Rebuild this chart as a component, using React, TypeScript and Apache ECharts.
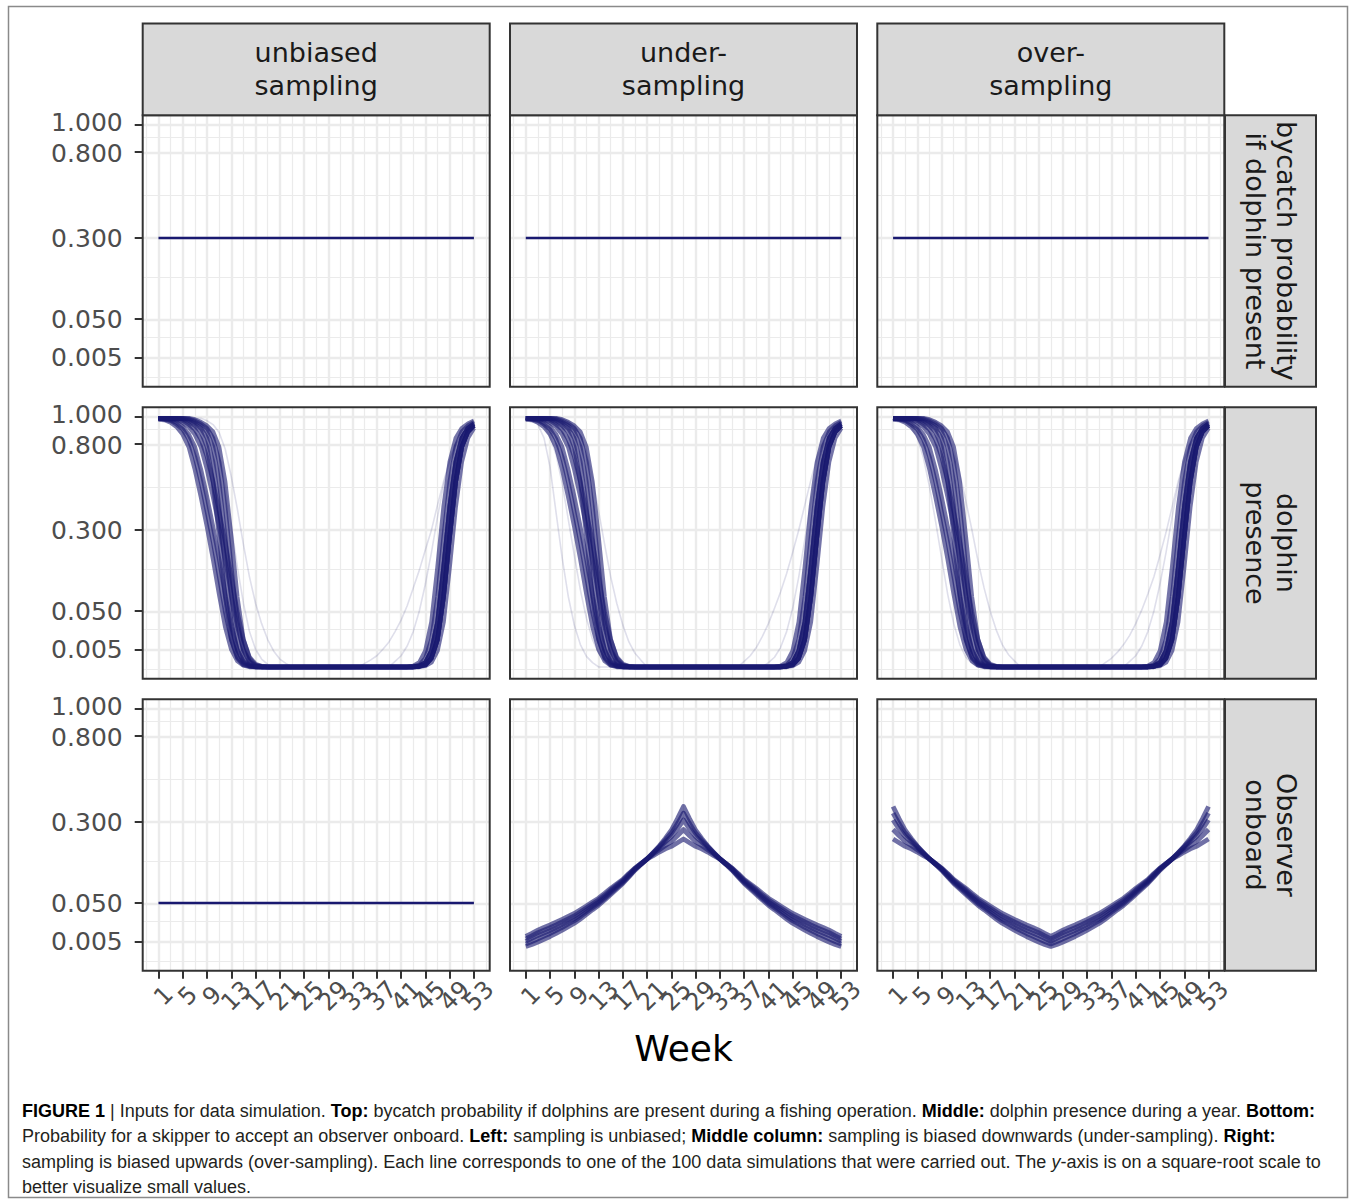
import React, { useEffect, useRef } from "react";
import * as echarts from "echarts";

// ---------------- DATA ----------------
const WEEKS = [1, 2, 3, 4, 5, 6, 7, 8, 9, 10, 11, 12, 13, 14, 15, 16, 17, 18, 19, 20, 21, 22, 23, 24, 25, 26, 27, 28, 29, 30, 31, 32, 33, 34, 35, 36, 37, 38, 39, 40, 41, 42, 43, 44, 45, 46, 47, 48, 49, 50, 51, 52, 53];
const X_TICKS = [1, 5, 9, 13, 17, 21, 25, 29, 33, 37, 41, 45, 49, 53];
const X_MINOR = [-1, 3, 7, 11, 15, 19, 23, 27, 31, 35, 39, 43, 47, 51, 55];
const Y_TICKS = [0.005, 0.05, 0.3, 0.8, 1.0];
const COLUMN_LABELS = ["unbiased\nsampling", "under-\nsampling", "over-\nsampling"];
const ROW_LABELS = ["bycatch probability\nif dolphin present", "dolphin\npresence", "Observer\nonboard"];
const X_TITLE = "Week";

// top row: bycatch probability if dolphin present (all simulations identical)
const BYCATCH_PROB = 0.3;
// bottom-left: observer onboard, unbiased sampling
const OBSERVER_UNBIASED = 0.05;

// middle row: dolphin presence, densely overlapping simulations (shared core)
const DOLPHIN_CORE = [
  [0.98, 0.976, 0.956, 0.922, 0.865, 0.774, 0.624, 0.462, 0.314, 0.185, 0.0841, 0.0256, 0.0049, 0.00058, 0.00004,
    0, 0, 0, 0, 0, 0, 0, 0, 0, 0, 0, 0, 0, 0, 0, 0, 0, 0, 0, 0, 0, 0, 0, 0, 0, 0, 0, 0,
    0.000016, 0.000324, 0.00423, 0.0324, 0.16, 0.41, 0.672, 0.837, 0.912, 0.947],
  [0.99, 0.98, 0.97, 0.941, 0.903, 0.828, 0.706, 0.548, 0.384, 0.25, 0.13, 0.0484, 0.0121, 0.0016, 0.000144, 0.00001,
    0, 0, 0, 0, 0, 0, 0, 0, 0, 0, 0, 0, 0, 0, 0, 0, 0, 0, 0, 0, 0, 0, 0, 0, 0, 0, 0,
    0.000004, 0.000064, 0.00123, 0.0121, 0.0784, 0.27, 0.548, 0.774, 0.884, 0.931],
  [0.99, 0.98, 0.976, 0.956, 0.922, 0.865, 0.774, 0.624, 0.462, 0.314, 0.185, 0.0841, 0.0256, 0.0049, 0.00058, 0.00004,
    0, 0, 0, 0, 0, 0, 0, 0, 0, 0, 0, 0, 0, 0, 0, 0, 0, 0, 0, 0, 0, 0, 0, 0, 0, 0,
    0.000004, 0.000064, 0.00123, 0.0121, 0.0784, 0.27, 0.548, 0.774, 0.884, 0.931, 0.96],
  [0.99, 0.99, 0.98, 0.976, 0.956, 0.922, 0.865, 0.774, 0.624, 0.462, 0.314, 0.185, 0.0841, 0.0256, 0.0049, 0.00058, 0.00004,
    0, 0, 0, 0, 0, 0, 0, 0, 0, 0, 0, 0, 0, 0, 0, 0, 0, 0, 0, 0, 0, 0, 0, 0, 0, 0,
    0.000004, 0.000064, 0.00123, 0.0121, 0.0784, 0.27, 0.548, 0.774, 0.884, 0.931],
  [0.99, 0.99, 0.99, 0.98, 0.97, 0.941, 0.903, 0.828, 0.706, 0.548, 0.384, 0.25, 0.13, 0.0484, 0.0121, 0.0016, 0.000144, 0.00001,
    0, 0, 0, 0, 0, 0, 0, 0, 0, 0, 0, 0, 0, 0, 0, 0, 0, 0, 0, 0, 0, 0, 0, 0, 0,
    0.000016, 0.000324, 0.00423, 0.0324, 0.16, 0.41, 0.672, 0.837, 0.912, 0.947],
  [0.99, 0.99, 0.99, 0.99, 0.98, 0.96, 0.931, 0.884, 0.774, 0.548, 0.27, 0.0784, 0.0121, 0.00123, 0.000064, 0.000004,
    0, 0, 0, 0, 0, 0, 0, 0, 0, 0, 0, 0, 0, 0, 0, 0, 0, 0, 0, 0, 0, 0, 0, 0, 0, 0, 0, 0,
    0.000016, 0.000324, 0.00423, 0.0324, 0.16, 0.41, 0.672, 0.837, 0.912],
  [0.99, 0.99, 0.99, 0.99, 0.986, 0.97, 0.947, 0.912, 0.837, 0.672, 0.41, 0.16, 0.0324, 0.00423, 0.000324, 0.000016,
    0, 0, 0, 0, 0, 0, 0, 0, 0, 0, 0, 0, 0, 0, 0, 0, 0, 0, 0, 0, 0, 0, 0, 0, 0, 0, 0,
    0.000016, 0.000324, 0.00423, 0.0324, 0.16, 0.41, 0.672, 0.837, 0.912, 0.947],
  [0.99, 0.99, 0.99, 0.99, 0.99, 0.98, 0.96, 0.931, 0.884, 0.774, 0.548, 0.27, 0.0784, 0.0121, 0.00123, 0.000064, 0.000004,
    0, 0, 0, 0, 0, 0, 0, 0, 0, 0, 0, 0, 0, 0, 0, 0, 0, 0, 0, 0, 0, 0, 0, 0, 0, 0,
    0.000004, 0.000064, 0.00123, 0.0121, 0.0784, 0.27, 0.548, 0.774, 0.884, 0.931],
  [0.99, 0.99, 0.99, 0.99, 0.99, 0.986, 0.97, 0.947, 0.912, 0.837, 0.672, 0.41, 0.16, 0.0324, 0.00423, 0.000324, 0.000016,
    0, 0, 0, 0, 0, 0, 0, 0, 0, 0, 0, 0, 0, 0, 0, 0, 0, 0, 0, 0, 0, 0, 0, 0, 0,
    0.000016, 0.000324, 0.00423, 0.0324, 0.16, 0.41, 0.672, 0.837, 0.912, 0.947, 0.97],
  [0.99, 0.99, 0.99, 0.99, 0.99, 0.99, 0.98, 0.96, 0.931, 0.884, 0.774, 0.548, 0.27, 0.0784, 0.0121, 0.00123, 0.000064, 0.000004,
    0, 0, 0, 0, 0, 0, 0, 0, 0, 0, 0, 0, 0, 0, 0, 0, 0, 0, 0, 0, 0, 0, 0, 0, 0,
    0.000004, 0.000064, 0.00123, 0.0121, 0.0784, 0.27, 0.548, 0.774, 0.884, 0.931],
];

// middle row: isolated (faint) simulations, per column
const DOLPHIN_FAINT_UNBIASED = [
  [0.99, 0.99, 0.99, 0.99, 0.99, 0.99, 0.99, 0.99, 0.97, 0.94, 0.88, 0.76, 0.58, 0.4, 0.24, 0.13, 0.065, 0.03, 0.012, 0.004, 0.001, 0.0002,
    0, 0, 0, 0, 0, 0, 0, 0, 0, 0, 0, 0, 0, 0, 0, 0, 0, 0, 0, 0, 0,
    0.000004, 0.000064, 0.00123, 0.0121, 0.0784, 0.27, 0.548, 0.774, 0.884, 0.931],
  [0.99, 0.98, 0.976, 0.956, 0.922, 0.865, 0.774, 0.624, 0.462, 0.314, 0.185, 0.0841, 0.0256, 0.0049, 0.00058, 0.00004,
    0, 0, 0, 0, 0, 0, 0, 0, 0, 0, 0, 0, 0, 0, 0, 0, 0, 0,
    0.0002, 0.0008, 0.002, 0.005, 0.01, 0.02, 0.035, 0.06, 0.1, 0.15, 0.22, 0.3, 0.42, 0.55, 0.68, 0.79, 0.86, 0.9, 0.92],
  [0.99, 0.99, 0.99, 0.99, 0.99, 0.99, 0.98, 0.96, 0.92, 0.85, 0.72, 0.52, 0.32, 0.16, 0.065, 0.02, 0.005, 0.001, 0.0001,
    0, 0, 0, 0, 0, 0, 0, 0, 0, 0, 0, 0, 0, 0, 0, 0, 0, 0, 0, 0,
    0.0005, 0.002, 0.007, 0.02, 0.05, 0.11, 0.21, 0.36, 0.53, 0.69, 0.8, 0.87, 0.91, 0.93],
];
const DOLPHIN_FAINT_UNDER = [
  [0.99, 0.98, 0.94, 0.84, 0.64, 0.38, 0.19, 0.08, 0.028, 0.008, 0.0018, 0.0003,
    0, 0, 0, 0, 0, 0, 0, 0, 0, 0, 0, 0, 0, 0, 0, 0, 0, 0, 0, 0, 0, 0, 0, 0,
    0.0005, 0.002, 0.006, 0.015, 0.03, 0.055, 0.09, 0.14, 0.21, 0.3, 0.42, 0.56, 0.7, 0.81, 0.88, 0.92, 0.94],
  [0.99, 0.985, 0.97, 0.93, 0.85, 0.72, 0.54, 0.35, 0.2, 0.095, 0.038, 0.012, 0.003, 0.0005,
    0, 0, 0, 0, 0, 0, 0, 0, 0, 0, 0, 0, 0, 0, 0, 0, 0, 0, 0, 0, 0, 0, 0, 0, 0, 0,
    0.0003, 0.0015, 0.006, 0.02, 0.055, 0.13, 0.26, 0.44, 0.62, 0.77, 0.87, 0.92, 0.95],
  [0.99, 0.99, 0.99, 0.99, 0.99, 0.99, 0.99, 0.97, 0.93, 0.86, 0.74, 0.57, 0.39, 0.24, 0.13, 0.065, 0.028, 0.01, 0.003, 0.0007,
    0, 0, 0, 0, 0, 0, 0, 0, 0, 0, 0, 0, 0, 0, 0, 0, 0, 0, 0, 0, 0, 0, 0, 0,
    0.00005, 0.0015, 0.018, 0.1, 0.3, 0.58, 0.8, 0.9, 0.94],
];
const DOLPHIN_FAINT_OVER = [
  [0.99, 0.98, 0.96, 0.92, 0.84, 0.7, 0.52, 0.34, 0.19, 0.085, 0.03, 0.008, 0.0015, 0.0002,
    0, 0, 0, 0, 0, 0, 0, 0, 0, 0, 0, 0, 0, 0, 0, 0, 0, 0, 0, 0, 0, 0, 0, 0, 0, 0, 0, 0, 0,
    0.000004, 0.000064, 0.00123, 0.0121, 0.0784, 0.27, 0.548, 0.774, 0.884, 0.931],
  [0.99, 0.99, 0.99, 0.99, 0.99, 0.99, 0.99, 0.97, 0.93, 0.86, 0.75, 0.6, 0.44, 0.3, 0.18, 0.1, 0.05, 0.022, 0.008, 0.0025, 0.0006,
    0, 0, 0, 0, 0, 0, 0, 0, 0, 0, 0, 0, 0, 0,
    0.0003, 0.0012, 0.0035, 0.008, 0.016, 0.03, 0.052, 0.085, 0.13, 0.2, 0.29, 0.41, 0.55, 0.68, 0.79, 0.86, 0.9, 0.92],
  [0.99, 0.99, 0.99, 0.99, 0.98, 0.96, 0.931, 0.884, 0.774, 0.548, 0.27, 0.0784, 0.0121, 0.00123, 0.000064,
    0, 0, 0, 0, 0, 0, 0, 0, 0, 0, 0, 0, 0, 0, 0, 0, 0, 0, 0, 0, 0, 0, 0, 0,
    0.0005, 0.002, 0.007, 0.02, 0.05, 0.11, 0.21, 0.36, 0.53, 0.69, 0.8, 0.87, 0.91, 0.93],
];

// bottom row: observer onboard, under-sampling (peak mid-year)
const OBSERVER_UNDER = [
  [0.0025, 0.00336, 0.00462, 0.00624, 0.0081, 0.0104, 0.0132, 0.0166, 0.0204, 0.0256, 0.0317, 0.0388, 0.0462, 0.0557, 0.0666, 0.0784, 0.0912, 0.108, 0.126, 0.143, 0.16, 0.181, 0.204, 0.232, 0.265, 0.314, 0.372,
    0.314, 0.265, 0.232, 0.204, 0.181, 0.16, 0.143, 0.126, 0.108, 0.0912, 0.0784, 0.0666, 0.0557, 0.0462, 0.0388, 0.0317, 0.0256, 0.0204, 0.0166, 0.0132, 0.0104, 0.0081, 0.00624, 0.00462, 0.00336, 0.0025],
  [0.0036, 0.0049, 0.00656, 0.00846, 0.0104, 0.013, 0.0159, 0.0196, 0.0234, 0.0286, 0.035, 0.042, 0.0493, 0.0586, 0.0697, 0.0812, 0.0936, 0.11, 0.128, 0.144, 0.16, 0.18, 0.202, 0.226, 0.253, 0.292, 0.34,
    0.292, 0.253, 0.226, 0.202, 0.18, 0.16, 0.144, 0.128, 0.11, 0.0936, 0.0812, 0.0697, 0.0586, 0.0493, 0.042, 0.035, 0.0286, 0.0234, 0.0196, 0.0159, 0.013, 0.0104, 0.00846, 0.00656, 0.0049, 0.0036],
  [0.0049, 0.00672, 0.00884, 0.0108, 0.013, 0.0156, 0.0188, 0.0225, 0.0262, 0.0317, 0.038, 0.0449, 0.052, 0.0615, 0.0729, 0.0841, 0.0961, 0.112, 0.13, 0.144, 0.16, 0.179, 0.199, 0.219, 0.24, 0.27, 0.309,
    0.27, 0.24, 0.219, 0.199, 0.179, 0.16, 0.144, 0.13, 0.112, 0.0961, 0.0841, 0.0729, 0.0615, 0.052, 0.0449, 0.038, 0.0317, 0.0262, 0.0225, 0.0188, 0.0156, 0.013, 0.0108, 0.00884, 0.00672, 0.0049],
  [0.0064, 0.00846, 0.011, 0.0132, 0.0156, 0.0185, 0.0219, 0.0256, 0.0296, 0.0353, 0.0416, 0.0484, 0.0557, 0.065, 0.0762, 0.087, 0.0986, 0.115, 0.131, 0.145, 0.16, 0.176, 0.191, 0.206, 0.221, 0.243, 0.268,
    0.243, 0.221, 0.206, 0.191, 0.176, 0.16, 0.145, 0.131, 0.115, 0.0986, 0.087, 0.0762, 0.065, 0.0557, 0.0484, 0.0416, 0.0353, 0.0296, 0.0256, 0.0219, 0.0185, 0.0156, 0.0132, 0.011, 0.00846, 0.0064],
  [0.0081, 0.0104, 0.0132, 0.0159, 0.0185, 0.0216, 0.025, 0.0289, 0.0331, 0.0388, 0.0449, 0.052, 0.059, 0.0686, 0.0795, 0.09, 0.101, 0.117, 0.132, 0.146, 0.16, 0.171, 0.183, 0.194, 0.203, 0.216, 0.23,
    0.216, 0.203, 0.194, 0.183, 0.171, 0.16, 0.146, 0.132, 0.117, 0.101, 0.09, 0.0795, 0.0686, 0.059, 0.052, 0.0449, 0.0388, 0.0331, 0.0289, 0.025, 0.0216, 0.0185, 0.0159, 0.0132, 0.0104, 0.0081],
];

// bottom row: observer onboard, over-sampling (minimum mid-year)
const OBSERVER_OVER = [
  [0.372, 0.314, 0.265, 0.232, 0.204, 0.181, 0.16, 0.143, 0.126, 0.108, 0.0912, 0.0784, 0.0666, 0.0557, 0.0462, 0.0388, 0.0317, 0.0256, 0.0204, 0.0166, 0.0132, 0.0104, 0.0081, 0.00624, 0.00462, 0.00336, 0.0025,
    0.00336, 0.00462, 0.00624, 0.0081, 0.0104, 0.0132, 0.0166, 0.0204, 0.0256, 0.0317, 0.0388, 0.0462, 0.0557, 0.0666, 0.0784, 0.0912, 0.108, 0.126, 0.143, 0.16, 0.181, 0.204, 0.232, 0.265, 0.314, 0.372],
  [0.34, 0.292, 0.253, 0.226, 0.202, 0.18, 0.16, 0.144, 0.128, 0.11, 0.0936, 0.0812, 0.0697, 0.0586, 0.0493, 0.042, 0.035, 0.0286, 0.0234, 0.0196, 0.0159, 0.013, 0.0104, 0.00846, 0.00656, 0.0049, 0.0036,
    0.0049, 0.00656, 0.00846, 0.0104, 0.013, 0.0159, 0.0196, 0.0234, 0.0286, 0.035, 0.042, 0.0493, 0.0586, 0.0697, 0.0812, 0.0936, 0.11, 0.128, 0.144, 0.16, 0.18, 0.202, 0.226, 0.253, 0.292, 0.34],
  [0.309, 0.27, 0.24, 0.219, 0.199, 0.179, 0.16, 0.144, 0.13, 0.112, 0.0961, 0.0841, 0.0729, 0.0615, 0.052, 0.0449, 0.038, 0.0317, 0.0262, 0.0225, 0.0188, 0.0156, 0.013, 0.0108, 0.00884, 0.00672, 0.0049,
    0.00672, 0.00884, 0.0108, 0.013, 0.0156, 0.0188, 0.0225, 0.0262, 0.0317, 0.038, 0.0449, 0.052, 0.0615, 0.0729, 0.0841, 0.0961, 0.112, 0.13, 0.144, 0.16, 0.179, 0.199, 0.219, 0.24, 0.27, 0.309],
  [0.268, 0.243, 0.221, 0.206, 0.191, 0.176, 0.16, 0.145, 0.131, 0.115, 0.0986, 0.087, 0.0762, 0.065, 0.0557, 0.0484, 0.0416, 0.0353, 0.0296, 0.0256, 0.0219, 0.0185, 0.0156, 0.0132, 0.011, 0.00846, 0.0064,
    0.00846, 0.011, 0.0132, 0.0156, 0.0185, 0.0219, 0.0256, 0.0296, 0.0353, 0.0416, 0.0484, 0.0557, 0.065, 0.0762, 0.087, 0.0986, 0.115, 0.131, 0.145, 0.16, 0.176, 0.191, 0.206, 0.221, 0.243, 0.268],
  [0.23, 0.216, 0.203, 0.194, 0.183, 0.171, 0.16, 0.146, 0.132, 0.117, 0.101, 0.09, 0.0795, 0.0686, 0.059, 0.052, 0.0449, 0.0388, 0.0331, 0.0289, 0.025, 0.0216, 0.0185, 0.0159, 0.0132, 0.0104, 0.0081,
    0.0104, 0.0132, 0.0159, 0.0185, 0.0216, 0.025, 0.0289, 0.0331, 0.0388, 0.0449, 0.052, 0.059, 0.0686, 0.0795, 0.09, 0.101, 0.117, 0.132, 0.146, 0.16, 0.171, 0.183, 0.194, 0.203, 0.216, 0.23],
];

const CAPTION_LINES = [
  "{b|FIGURE 1} | Inputs for data simulation. {b|Top:} bycatch probability if dolphins are present during a fishing operation. {b|Middle:} dolphin presence during a year. {b|Bottom:}",
  "Probability for a skipper to accept an observer onboard. {b|Left:} sampling is unbiased; {b|Middle column:} sampling is biased downwards (under-sampling). {b|Right:}",
  "sampling is biased upwards (over-sampling). Each line corresponds to one of the 100 data simulations that were carried out. The {i|y}-axis is on a square-root scale to",
  "better visualize small values.",
];

// ---------------- LAYOUT / STYLE ----------------
const W = 1357;
const H = 1201;
const COL_X = [142.7, 510, 877.3];
const COL_W = 347;
const ROW_Y = [115.2, 407.2, 699.2];
const ROW_H = 271.5;
const STRIP_TOP = 23.5;
const STRIP_RIGHT_X = 1225;
const STRIP_RIGHT_W = 91;
const X_MIN = -1.6;
const X_MAX = 55.6;
const Y_MIN = -0.047;
const Y_MAX = 1.039;
const GRID_COLOR = "#EBEBEB";
const NAVY = "25,25,112";
const FONT = "DejaVu Sans";
const Y_FONT_SIZE = 25;
const CAP_FONT = "Liberation Sans";
const CAP_SIZE = 18;

const sq = (v: number) => Math.sqrt(v);

function buildOption() {
  const yMajorT = Y_TICKS.map(sq);
  const n = yMajorT.length;
  const ext = [yMajorT[0] - (yMajorT[1] - yMajorT[0]), ...yMajorT, yMajorT[n - 1] + (yMajorT[n - 1] - yMajorT[n - 2])];
  const yMinorT = ext.slice(1).map((b, k) => (ext[k] + b) / 2).filter((v) => v > Y_MIN && v < Y_MAX);
  // labels split over two axes per panel so that ECharts does not drop
  // tightly packed neighbours (e.g. 1.000 / 0.800, 49 / 53)
  const yLabA = yMajorT.filter((_, k) => k % 2 === 0);
  const yLabB = yMajorT.filter((_, k) => k % 2 === 1);
  const xLabA = X_TICKS.filter((_, k) => k % 2 === 0);
  const xLabB = X_TICKS.filter((_, k) => k % 2 === 1);
  const fmt = (v: number) => (v * v).toFixed(3);
  const topLabel = Y_TICKS[n - 1].toFixed(3);
  const nextLabel = Y_TICKS[n - 2].toFixed(3);

  const grids: any[] = [];
  const xAxes: any[] = [];
  const yAxes: any[] = [];
  const xAxes2: any[] = [];
  const yAxes2: any[] = [];
  const series: any[] = [];
  const graphics: any[] = [];

  const xLabelStyle = {
    rotate: 45,
    align: "center",
    verticalAlign: "middle",
    padding: [0, 0, 0, 14],
    margin: 30,
    fontSize: 24,
    fontFamily: FONT,
    color: "#4D4D4D",
  };
  const yRichBase = { fontSize: Y_FONT_SIZE, fontFamily: FONT, color: "#4D4D4D" };
  const yLabelStyle = {
    // the two top labels sit very close; nudge them apart by a couple of pixels
    formatter: (v: number) => {
      const s = fmt(v);
      if (s === topLabel) return `{up|${s}}`;
      if (s === nextLabel) return `{dn|${s}}`;
      return s;
    },
    rich: {
      up: { ...yRichBase, padding: [0, 0, 4, 0] },
      dn: { ...yRichBase, padding: [4, 0, 0, 0] },
    },
    margin: 20,
    fontSize: Y_FONT_SIZE,
    fontFamily: FONT,
    color: "#4D4D4D",
  };

  const lineSeries = (i: number, vals: number[], alpha: number, width: number, z: number) => ({
    type: "line",
    xAxisIndex: i,
    yAxisIndex: i,
    silent: true,
    showSymbol: false,
    symbol: "none",
    z,
    emphasis: { disabled: true },
    lineStyle: { color: `rgba(${NAVY},${alpha})`, width, cap: "butt", join: "round" },
    data: WEEKS.map((w, k) => [w, sq(vals[k])]),
  });

  for (let r = 0; r < 3; r++) {
    for (let c = 0; c < 3; c++) {
      const i = r * 3 + c;
      grids.push({
        left: COL_X[c],
        top: ROW_Y[r],
        width: COL_W,
        height: ROW_H,
        show: true,
        backgroundColor: "#ffffff",
        borderWidth: 0,
        containLabel: false,
        outerBoundsMode: "none",
      });
      const baseX = {
        gridIndex: i,
        type: "value",
        position: "bottom",
        min: X_MIN,
        max: X_MAX,
        axisLine: { show: false, onZero: false },
        splitLine: { show: false },
      };
      const baseY = {
        gridIndex: i,
        type: "value",
        position: "left",
        offset: 0,
        min: Y_MIN,
        max: Y_MAX,
        axisLine: { show: false, onZero: false },
        splitLine: { show: false },
      };
      xAxes.push({
        ...baseX,
        axisTick: { show: r === 2, customValues: X_TICKS, length: 8, lineStyle: { color: "#333333", width: 2 } },
        axisLabel: { show: r === 2, customValues: xLabA, ...xLabelStyle },
      });
      xAxes2.push({
        ...baseX,
        axisTick: { show: false },
        axisLabel: { show: r === 2, customValues: xLabB, ...xLabelStyle },
      });
      yAxes.push({
        ...baseY,
        axisTick: { show: c === 0, customValues: yMajorT, length: 8, lineStyle: { color: "#333333", width: 2 } },
        axisLabel: { show: c === 0, customValues: yLabA, ...yLabelStyle },
      });
      yAxes2.push({
        ...baseY,
        axisTick: { show: false },
        axisLabel: { show: c === 0, customValues: yLabB, ...yLabelStyle },
      });

      // background grid lines (major + minor), drawn through the axes, below the data
      series.push({
        type: "line",
        xAxisIndex: i,
        yAxisIndex: i,
        data: [],
        silent: true,
        z: 1,
        markLine: {
          silent: true,
          z: 1,
          symbol: ["none", "none"],
          label: { show: false },
          emphasis: { disabled: true },
          animation: false,
          data: [
            ...X_MINOR.map((x) => ({ xAxis: x, lineStyle: { color: GRID_COLOR, width: 1.2, type: "solid" } })),
            ...yMinorT.map((y) => ({ yAxis: y, lineStyle: { color: GRID_COLOR, width: 1.2, type: "solid" } })),
            ...X_TICKS.map((x) => ({ xAxis: x, lineStyle: { color: GRID_COLOR, width: 2.4, type: "solid" } })),
            ...yMajorT.map((y) => ({ yAxis: y, lineStyle: { color: GRID_COLOR, width: 2.4, type: "solid" } })),
          ],
        },
      });

      if (r === 0) {
        series.push(lineSeries(i, WEEKS.map(() => BYCATCH_PROB), 1, 2.6, 20));
      } else if (r === 1) {
        const faint = [DOLPHIN_FAINT_UNBIASED, DOLPHIN_FAINT_UNDER, DOLPHIN_FAINT_OVER][c];
        faint.forEach((vals) => series.push(lineSeries(i, vals, 0.14, 1.6, 10)));
        DOLPHIN_CORE.forEach((vals) => series.push(lineSeries(i, vals, 0.6, 4.4, 20)));
      } else {
        if (c === 0) {
          series.push(lineSeries(i, WEEKS.map(() => OBSERVER_UNBIASED), 1, 2.6, 20));
        } else {
          const set = c === 1 ? OBSERVER_UNDER : OBSERVER_OVER;
          set.forEach((vals) => series.push(lineSeries(i, vals, 0.62, 4.8, 20)));
        }
      }

      // panel border
      graphics.push({
        type: "rect",
        z: 100,
        shape: { x: COL_X[c], y: ROW_Y[r], width: COL_W, height: ROW_H },
        style: { fill: "none", stroke: "#333333", lineWidth: 2 },
      });
    }
  }

  // column strips
  for (let c = 0; c < 3; c++) {
    graphics.push({
      type: "rect",
      z: 100,
      shape: { x: COL_X[c], y: STRIP_TOP, width: COL_W, height: ROW_Y[0] - STRIP_TOP },
      style: { fill: "#D9D9D9", stroke: "#333333", lineWidth: 2 },
    });
    graphics.push({
      type: "text",
      z: 101,
      x: COL_X[c] + COL_W / 2,
      y: (STRIP_TOP + ROW_Y[0]) / 2,
      style: {
        text: COLUMN_LABELS[c],
        fill: "#1A1A1A",
        fontSize: 27,
        fontFamily: FONT,
        lineHeight: 33,
        align: "center",
        verticalAlign: "middle",
        textAlign: "center",
        textVerticalAlign: "middle",
      },
    });
  }
  // row strips
  for (let r = 0; r < 3; r++) {
    graphics.push({
      type: "rect",
      z: 100,
      shape: { x: STRIP_RIGHT_X, y: ROW_Y[r], width: STRIP_RIGHT_W, height: ROW_H },
      style: { fill: "#D9D9D9", stroke: "#333333", lineWidth: 2 },
    });
    graphics.push({
      type: "text",
      z: 101,
      x: STRIP_RIGHT_X + STRIP_RIGHT_W / 2,
      y: ROW_Y[r] + ROW_H / 2,
      rotation: -Math.PI / 2,
      style: {
        text: ROW_LABELS[r],
        fill: "#1A1A1A",
        fontSize: 27,
        fontFamily: FONT,
        lineHeight: 31,
        align: "center",
        verticalAlign: "middle",
        textAlign: "center",
        textVerticalAlign: "middle",
      },
    });
  }

  // x-axis title
  graphics.push({
    type: "text",
    z: 101,
    x: (COL_X[0] + COL_X[2] + COL_W) / 2,
    y: 1048,
    style: {
      text: X_TITLE,
      fill: "#000000",
      fontSize: 36,
      fontFamily: FONT,
      align: "center",
      verticalAlign: "middle",
      textAlign: "center",
      textVerticalAlign: "middle",
    },
  });

  // caption
  const capY = [1111, 1136, 1161.5, 1187];
  CAPTION_LINES.forEach((line, k) => {
    graphics.push({
      type: "text",
      z: 101,
      x: 22,
      y: capY[k],
      style: {
        text: line,
        fill: "#231F20",
        fontSize: CAP_SIZE,
        fontFamily: CAP_FONT,
        align: "left",
        verticalAlign: "middle",
        textAlign: "left",
        textVerticalAlign: "middle",
        rich: {
          b: { fontWeight: "bold", fontSize: CAP_SIZE, fontFamily: CAP_FONT, fill: "#000000" },
          i: { fontStyle: "italic", fontSize: CAP_SIZE, fontFamily: CAP_FONT, fill: "#231F20" },
        },
      },
    });
  });

  // outer frame
  graphics.push({
    type: "rect",
    z: 99,
    shape: { x: 8.5, y: 6.5, width: 1339, height: 1191 },
    style: { fill: "none", stroke: "#8A8A8A", lineWidth: 1.5 },
  });

  return {
    animation: false,
    backgroundColor: "#ffffff",
    grid: grids,
    xAxis: [...xAxes, ...xAxes2],
    yAxis: [...yAxes, ...yAxes2],
    series,
    graphic: { elements: graphics },
  };
}

export default function App() {
  const ref = useRef<HTMLDivElement>(null);
  useEffect(() => {
    if (!ref.current) return;
    const chart = echarts.init(ref.current, undefined, { renderer: "svg", width: W, height: H });
    chart.setOption(buildOption() as any);
    return () => chart.dispose();
  }, []);
  return (
    <div
      ref={ref}
      style={{ position: "absolute", left: 0, top: 0, width: W, height: H, background: "#ffffff" }}
    />
  );
}
